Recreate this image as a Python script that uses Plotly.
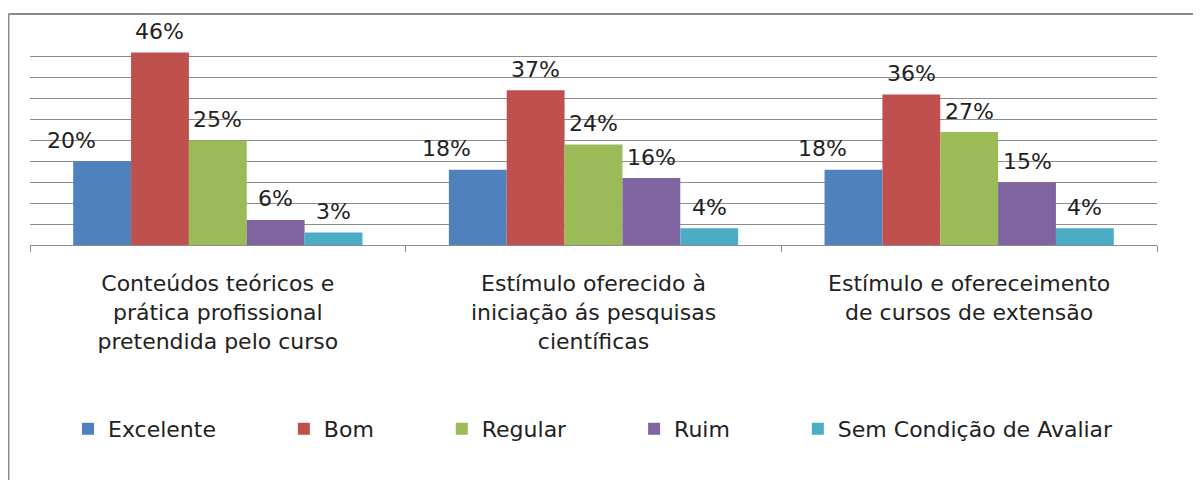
import plotly.graph_objects as go

categories = [
    "Conteúdos teóricos e<br>prática profissional<br>pretendida pelo curso",
    "Estímulo oferecido à<br>iniciação ás pesquisas<br>científicas",
    "Estímulo e ofereceimento<br>de cursos de extensão",
]
series_names = ["Excelente", "Bom", "Regular", "Ruim", "Sem Condição de Avaliar"]
excelente = [20, 18, 18]
bom = [46, 37, 36]
regular = [25, 24, 27]
ruim = [6, 16, 15]
sem_condicao = [3, 4, 4]

series_values = [excelente, bom, regular, ruim, sem_condicao]
colors = ["#4F81BD", "#C0504D", "#9BBB59", "#8064A2", "#4BACC6"]

FONT = "DejaVu Sans"
TEXT = "#222222"
GRID = "#8c8c8c"
BARGAP = 0.23
LEGEND_PAD = "\u00a0" * 9  # extra room between legend entries, like the Excel legend

fig = go.Figure()

for k, (name, vals, color) in enumerate(zip(series_names, series_values, colors)):
    label = name if k == len(series_names) - 1 else name + LEGEND_PAD
    fig.add_trace(
        go.Bar(
            x=categories,
            y=vals,
            name=label,
            marker=dict(color=color, line=dict(width=0)),
        )
    )

# data labels above each bar, placed from the bar's own slot in the group
n = len(series_names)
slot = (1 - BARGAP) / n
annotations = []
for i, vals in enumerate(series_values):
    offset = -(1 - BARGAP) / 2 + slot * (i + 0.5)
    for j, v in enumerate(vals):
        annotations.append(
            dict(
                x=j + offset,
                y=v,
                xref="x",
                yref="y",
                text=f"{v}%",
                showarrow=False,
                yanchor="middle",
                yshift=21,
                xshift=-31 if i == 0 else 0,
                font=dict(family=FONT, size=22, color=TEXT),
            )
        )

fig.update_layout(
    width=1201,
    height=480,
    margin=dict(l=22, r=52, t=27, b=243),
    paper_bgcolor="white",
    plot_bgcolor="white",
    barmode="group",
    bargap=BARGAP,
    bargroupgap=0,
    font=dict(family=FONT, size=22, color=TEXT),
    annotations=annotations,
    legend=dict(
        orientation="h",
        x=0.5,
        xanchor="center",
        y=-0.876,
        yanchor="middle",
        font=dict(family=FONT, size=22, color=TEXT),
    ),
    xaxis=dict(
        showline=True,
        linecolor=GRID,
        linewidth=1,
        ticks="outside",
        tickson="boundaries",
        ticklen=6,
        tickcolor=GRID,
        tickfont=dict(family=FONT, size=22, color=TEXT),
        ticklabelstandoff=19,
    ),
    yaxis=dict(
        range=[0, 50.2],
        dtick=5,
        showgrid=True,
        gridcolor=GRID,
        gridwidth=1,
        showticklabels=False,
        zeroline=False,
        showline=False,
    ),
    # chart frame: only its top and left edges fall inside the picture
    shapes=[
        dict(type="line", xref="paper", yref="paper",
             x0=-0.0191, x1=1.1, y0=1.1, y1=1.1,
             line=dict(color="#8a8a8a", width=2)),
        dict(type="line", xref="paper", yref="paper",
             x0=-0.0191, x1=-0.0191, y0=1.1, y1=-1.2,
             line=dict(color="#8a8a8a", width=2)),
    ],
)

fig.write_html("out.html")
